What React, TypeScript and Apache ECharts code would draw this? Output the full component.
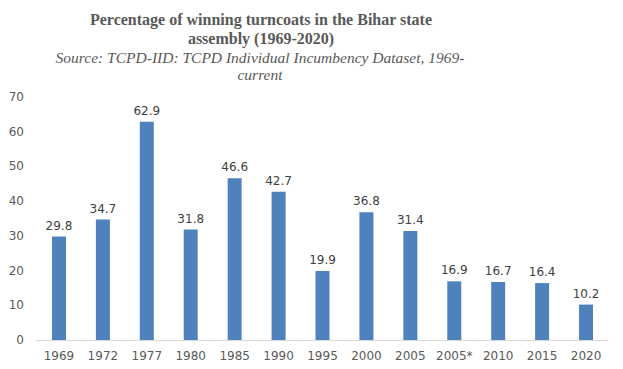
import React, { useEffect, useRef } from "react";
import * as echarts from "echarts";

const categories = ["1969", "1972", "1977", "1980", "1985", "1990", "1995", "2000", "2005", "2005*", "2010", "2015", "2020"];
const values = [29.8, 34.7, 62.9, 31.8, 46.6, 42.7, 19.9, 36.8, 31.4, 16.9, 16.7, 16.4, 10.2];
const titleLines = ["Percentage of winning turncoats in the Bihar state", "assembly (1969-2020)"];
const subtitleLines = ["Source: TCPD-IID: TCPD Individual Incumbency Dataset, 1969-", "current"];

export default function App() {
  const ref = useRef<HTMLDivElement>(null);
  useEffect(() => {
    const chart = echarts.init(ref.current!, null, { renderer: "svg" });
    const titleStyle = {
      fontFamily: "Liberation Serif",
      fontWeight: "bold",
      fontSize: 16,
      fill: "#595959",
      textAlign: "center",
      textVerticalAlign: "middle",
    };
    const subStyle = {
      fontFamily: "Liberation Serif",
      fontStyle: "italic",
      fontSize: 15.5,
      fill: "#595959",
      textAlign: "center",
      textVerticalAlign: "middle",
    };
    chart.setOption({
      animation: false,
      graphic: [
        { type: "text", x: 261, y: 19, style: { ...titleStyle, text: titleLines[0] } },
        { type: "text", x: 261, y: 38, style: { ...titleStyle, text: titleLines[1] } },
        { type: "text", x: 260, y: 57, style: { ...subStyle, text: subtitleLines[0] } },
        { type: "text", x: 260, y: 74, style: { ...subStyle, text: subtitleLines[1] } },
      ],
      grid: { left: 37, right: 15, top: 97, bottom: 29 },
      xAxis: {
        type: "category",
        data: categories,
        axisLine: { lineStyle: { color: "#d9d9d9" } },
        axisTick: { show: false },
        axisLabel: { fontFamily: "DejaVu Sans", fontSize: 12, color: "#595959", margin: 10, interval: 0 },
      },
      yAxis: {
        type: "value",
        min: 0,
        max: 70,
        interval: 10,
        splitLine: { show: false },
        axisLabel: { fontFamily: "DejaVu Sans", fontSize: 12, color: "#595959", margin: 13, align: "right" },
      },
      series: [
        {
          type: "bar",
          data: values,
          barWidth: 14,
          itemStyle: { color: "#4f81bd" },
          label: {
            show: true,
            position: "top",
            distance: 5,
            fontFamily: "DejaVu Sans",
            fontSize: 12,
            color: "#404040",
          },
        },
      ],
    });
    return () => chart.dispose();
  }, []);
  return <div ref={ref} style={{ position: "absolute", left: 0, top: 0, width: 623, height: 369 }} />;
}
